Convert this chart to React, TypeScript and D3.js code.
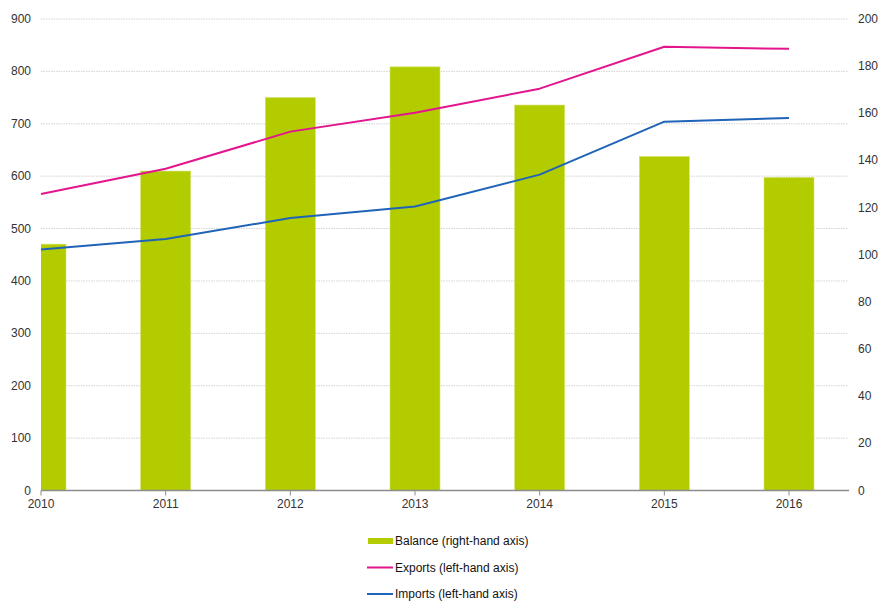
import React from "react";
import * as d3 from "d3";

const years = [2010, 2011, 2012, 2013, 2014, 2015, 2016];
const balance = [104.5, 135.5, 166.7, 179.7, 163.5, 141.7, 132.8];
const exportsVals = [566, 614, 685, 721, 767, 847, 843];
const importsVals = [460, 480, 520, 542, 603, 704, 711];
const leftTicks = [0, 100, 200, 300, 400, 500, 600, 700, 800, 900];
const rightTicks = [0, 20, 40, 60, 80, 100, 120, 140, 160, 180, 200];
const legendItems = [
  { label: "Balance (right-hand axis)", color: "#b2cc00", kind: "bar" },
  { label: "Exports (left-hand axis)", color: "#e3158e", kind: "line" },
  { label: "Imports (left-hand axis)", color: "#1f64b8", kind: "line" },
];

const W = 881;
const H = 601;
const left = 41;
const right = 848;
const top = 19;
const bottom = 490.5;

export default function App() {
  const x = d3.scaleLinear().domain([2010, 2016]).range([left, 789]);
  const yL = d3.scaleLinear().domain([0, 900]).range([bottom, top]);
  const yR = d3.scaleLinear().domain([0, 200]).range([bottom, top]);
  const barW = 50;

  const line = (vals: number[]) =>
    d3
      .line<number>()
      .x((_, i) => x(years[i]))
      .y((v) => yL(v))
      .curve(d3.curveLinear)(vals) || "";

  const font = "'Liberation Sans', Arial, sans-serif";

  return (
    <svg
      width={W}
      height={H}
      style={{ position: "absolute", left: 0, top: 0, background: "#fff" }}
      fontFamily={font}
    >
      <defs>
        <clipPath id="plotclip">
          <rect x={left} y={0} width={right - left} height={bottom} />
        </clipPath>
      </defs>
      {leftTicks.map((t) =>
        t === 0 ? null : (
          <line
            key={"g" + t}
            x1={left}
            x2={right}
            y1={yL(t)}
            y2={yL(t)}
            stroke="#d2d2d2"
            strokeWidth={1}
            strokeDasharray="1.5,1"
          />
        )
      )}
      <g clipPath="url(#plotclip)">
        {years.map((yr, i) => (
          <rect
            key={"b" + yr}
            x={x(yr) - barW / 2}
            y={yR(balance[i])}
            width={barW}
            height={bottom - yR(balance[i])}
            fill="#b2cc00"
            stroke="#d4e36a"
            strokeWidth={0.6}
          />
        ))}
      </g>
      <path d={line(exportsVals)} fill="none" stroke="#e3158e" strokeWidth={2} strokeLinejoin="round" />
      <path d={line(importsVals)} fill="none" stroke="#1f64b8" strokeWidth={2} strokeLinejoin="round" />
      <line x1={left} x2={right + 1} y1={bottom} y2={bottom} stroke="#8c8c8c" strokeWidth={1.5} />
      {years.map((yr) => (
        <g key={"x" + yr}>
          <line x1={x(yr)} x2={x(yr)} y1={bottom} y2={bottom + 5} stroke="#8c8c8c" strokeWidth={1} />
          <text x={x(yr)} y={bottom + 17} textAnchor="middle" fontSize={12} fill="#333">
            {yr}
          </text>
        </g>
      ))}
      {leftTicks.map((t) => (
        <text key={"l" + t} x={31} y={yL(t) + 4} textAnchor="end" fontSize={12} fill="#333">
          {t}
        </text>
      ))}
      {rightTicks.map((t) => (
        <text key={"r" + t} x={858} y={yR(t) + 4} textAnchor="start" fontSize={12} fill="#333">
          {t}
        </text>
      ))}
      {legendItems.map((it, i) => {
        const ly = 541 + i * 26.5;
        return (
          <g key={it.label}>
            {it.kind === "bar" ? (
              <rect x={368} y={ly - 3} width={25} height={6} fill={it.color} />
            ) : (
              <line x1={367} x2={393} y1={ly} y2={ly} stroke={it.color} strokeWidth={2} />
            )}
            <text x={395} y={ly + 4} fontSize={12} fill="#111">
              {it.label}
            </text>
          </g>
        );
      })}
    </svg>
  );
}
